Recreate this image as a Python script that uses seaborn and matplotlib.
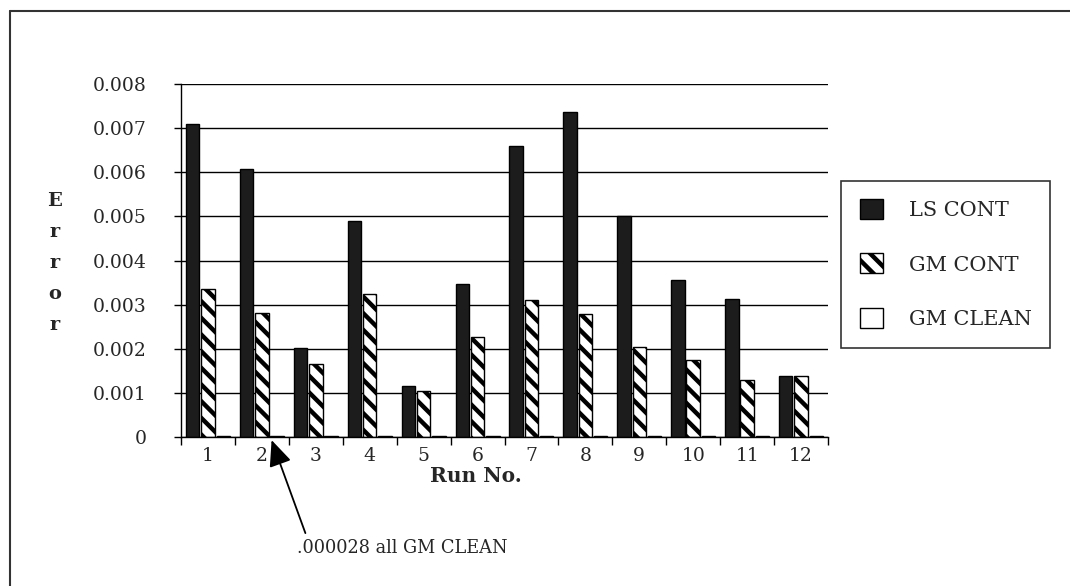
import numpy as np
import pandas as pd
import matplotlib
matplotlib.use("Agg")
import matplotlib.pyplot as plt
from matplotlib.patches import Patch
from matplotlib.lines import Line2D
import seaborn as sns

runs = ["1", "2", "3", "4", "5", "6", "7", "8", "9", "10", "11", "12"]
ls_cont = [0.00710, 0.00607, 0.00201, 0.00490, 0.00116, 0.00346,
           0.00660, 0.00737, 0.00500, 0.00356, 0.00312, 0.00138]
gm_cont = [0.00336, 0.00280, 0.00166, 0.00324, 0.00105, 0.00226,
           0.00310, 0.00278, 0.00205, 0.00174, 0.00130, 0.00138]
gm_clean = [0.000028] * 12
series_names = ["LS CONT", "GM CONT", "GM CLEAN"]
y_ticks = [0, 0.001, 0.002, 0.003, 0.004, 0.005, 0.006, 0.007, 0.008]
y_tick_labels = ["0", "0.001", "0.002", "0.003", "0.004", "0.005", "0.006", "0.007", "0.008"]
annotation_text = ".000028 all GM CLEAN"

df = pd.DataFrame({
    "Run": runs * 3,
    "Series": [series_names[0]] * 12 + [series_names[1]] * 12 + [series_names[2]] * 12,
    "Error": ls_cont + gm_cont + gm_clean,
})

sns.set_theme(style="white")
plt.rcParams["font.family"] = ["DejaVu Serif"]
plt.rcParams["hatch.linewidth"] = 3.2
plt.rcParams["hatch.color"] = "black"

fig = plt.figure(figsize=(10.7, 5.86), dpi=100)
ax = fig.add_axes([181 / 1070, 1 - 437 / 586, 647 / 1070, 353 / 586])

palette = {"LS CONT": "#1c1c1c", "GM CONT": "white", "GM CLEAN": "white"}
sns.barplot(data=df, x="Run", y="Error", hue="Series", order=runs,
            hue_order=series_names, palette=palette, width=0.85, gap=0.12,
            edgecolor="black", linewidth=1.0, saturation=1, legend=False, ax=ax)

for bar in ax.containers[1]:
    bar.set_hatch("\\\\")
    bar.set_edgecolor("black")

ax.set_xlim(-0.5, 11.5)
ax.set_ylim(0, 0.008)
ax.set_yticks(y_ticks)
ax.set_yticklabels(y_tick_labels)
ax.grid(axis="y", color="black", linewidth=1.0)
ax.set_axisbelow(True)

for s in ["top", "right"]:
    ax.spines[s].set_visible(False)
for s in ["left", "bottom"]:
    ax.spines[s].set_color("black")
    ax.spines[s].set_linewidth(1.0)

ax.tick_params(axis="y", direction="out", length=5, width=1, color="black",
               pad=20, labelsize=13.5, left=True)
ax.set_xticks(np.arange(-0.5, 12, 1))
ax.set_xticklabels([])
ax.set_xticks(np.arange(12), minor=True)
ax.set_xticklabels(runs, minor=True)
ax.tick_params(axis="x", which="major", direction="out", length=6, width=1,
               color="black", bottom=True)
ax.tick_params(axis="x", which="minor", length=0, pad=7, labelsize=13.5)

ax.set_xlabel("")
ax.set_ylabel("")
fig.text(476 / 1070, 1 - 476 / 586, "Run No.", ha="center", va="center",
         fontsize=14.5, fontweight="bold")
fig.text(55 / 1070, 1 - 263 / 586, "E\nr\nr\no\nr", ha="center", va="center",
         fontsize=14, fontweight="bold", linespacing=1.92)

handles = [
    Patch(facecolor="#1c1c1c", edgecolor="black", label=series_names[0]),
    Patch(facecolor="white", edgecolor="black", hatch="\\\\", label=series_names[1]),
    Patch(facecolor="white", edgecolor="black", label=series_names[2]),
]
leg = fig.legend(handles=handles, loc="center left",
                 bbox_to_anchor=(841 / 1070, 1 - 264 / 586),
                 fontsize=15, frameon=True, fancybox=False,
                 handlelength=1.1, handleheight=1.1, handletextpad=1.25,
                 labelspacing=1.59, borderpad=0.9, borderaxespad=0)
leg.get_frame().set_edgecolor("black")
leg.get_frame().set_linewidth(1.2)

ax.annotate(annotation_text, xy=(1.18, -0.00007), xycoords="data",
            xytext=(297 / 1070, 1 - 548 / 586), textcoords="figure fraction",
            ha="left", va="center", fontsize=12.8, annotation_clip=False,
            arrowprops=dict(arrowstyle="-|>,head_length=0.8,head_width=0.35",
                            mutation_scale=20, color="black", lw=1.3,
                            relpos=(0.05, 1.0), shrinkA=2, shrinkB=0))

fig.add_artist(Line2D([10 / 1070, 10 / 1070], [0, 1 - 11 / 586],
                      transform=fig.transFigure, color="#333333", lw=1.5))
fig.add_artist(Line2D([10 / 1070, 1], [1 - 11 / 586, 1 - 11 / 586],
                      transform=fig.transFigure, color="#333333", lw=1.5))

fig.savefig("out.png", dpi=100)
